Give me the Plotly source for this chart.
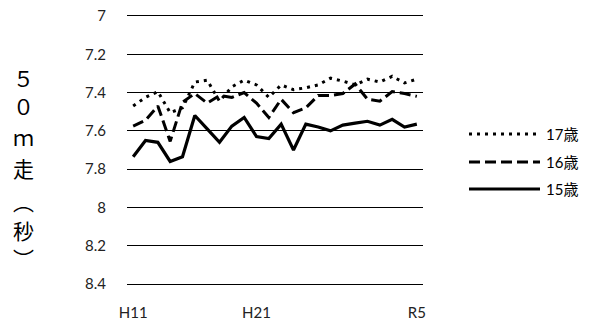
import plotly.graph_objects as go

categories = ["H11","H12","H13","H14","H15","H16","H17","H18","H19","H20",
              "H21","H22","H23","H24","H25","H26","H27","H28","H29","H30",
              "R1","R3","R4","R5"]
tick_labels = {"H11": "H11", "H21": "H21", "R5": "R5"}

age17 = [7.47, 7.425, 7.395, 7.505, 7.48, 7.345, 7.335, 7.445, 7.37, 7.335,
         7.36, 7.425, 7.36, 7.385, 7.375, 7.36, 7.325, 7.34, 7.36, 7.33,
         7.345, 7.315, 7.35, 7.33]
age16 = [7.575, 7.545, 7.47, 7.655, 7.45, 7.405, 7.455, 7.415, 7.425, 7.40,
         7.455, 7.53, 7.435, 7.505, 7.48, 7.415, 7.415, 7.405, 7.355, 7.435,
         7.445, 7.395, 7.405, 7.42]
age15 = [7.735, 7.65, 7.66, 7.76, 7.735, 7.52, 7.59, 7.66, 7.575, 7.53,
         7.63, 7.64, 7.565, 7.70, 7.565, 7.58, 7.60, 7.57, 7.56, 7.55,
         7.57, 7.54, 7.58, 7.565]

series_names = ["17歳", "16歳", "15歳"]
y_ticks = [7, 7.2, 7.4, 7.6, 7.8, 8, 8.2, 8.4]
y_title_chars = ["５", "０", "ｍ", "走", "︵", "秒", "︶"]

FONT = "Lato, 'Noto Sans CJK JP', sans-serif"
JP = "'Noto Sans CJK JP', sans-serif"

styles = [dict(dash="3px,5px", width=3), dict(dash="11px,5px", width=3), dict(dash="solid", width=3.2)]

fig = go.Figure()
for name, vals, st in zip(series_names, [age17, age16, age15], styles):
    fig.add_trace(go.Scatter(x=categories, y=vals, mode="lines", name=name,
                             line=dict(color="black", **st), showlegend=False))

W, H = 589, 327
ml, mr, mt, mb = 127, 166, 16, 43
pw, ph = W - ml - mr, H - mt - mb

def px_x(x):
    return (x - ml) / pw

def px_y(y):
    return (H - mb - y) / ph

# custom legend
legend_rows = [134, 162, 189]
for name, st, ry in zip(series_names, styles, legend_rows):
    fig.add_shape(type="line", xref="paper", yref="paper",
                  x0=px_x(469), x1=px_x(540), y0=px_y(ry), y1=px_y(ry),
                  line=dict(color="black", width=st["width"], dash=st["dash"]))
    fig.add_annotation(text=name, xref="paper", yref="paper", x=px_x(544), y=px_y(ry),
                       xanchor="left", yanchor="middle", showarrow=False,
                       font=dict(family=FONT, size=15, color="black"))

# vertical y-axis title
y_positions = [78, 106, 137, 168, 201, 230, 258]
for ch, yy in zip(y_title_chars, y_positions):
    fig.add_annotation(text=ch, xref="paper", yref="paper", x=px_x(23), y=px_y(yy),
                       xanchor="center", yanchor="middle", showarrow=False,
                       font=dict(family=JP, size=21, color="black"))

fig.update_layout(
    width=W, height=H,
    margin=dict(l=ml, r=mr, t=mt, b=mb, pad=0, autoexpand=False),
    plot_bgcolor="white", paper_bgcolor="white",
    font=dict(family=FONT, size=15, color="#222"),
)
fig.update_xaxes(type="category", categoryorder="array", categoryarray=categories,
                 range=[-0.5, len(categories) - 0.5],
                 tickmode="array", tickvals=list(tick_labels.keys()),
                 ticktext=list(tick_labels.values()),
                 showgrid=False, showline=True, mirror=True, linecolor="black", linewidth=1,
                 zeroline=False, ticks="", automargin=False,
                 ticklabelstandoff=15, tickfont=dict(size=15, family=FONT))
fig.update_yaxes(range=[8.4, 7.0], tickmode="array", tickvals=y_ticks,
                 ticktext=[f"{v:g}" for v in y_ticks],
                 showgrid=True, gridcolor="black", gridwidth=1,
                 zeroline=False, showline=False, ticks="", automargin=False,
                 ticklabelstandoff=20, tickfont=dict(size=15, family=FONT))

fig.write_html("out.html", config={"displayModeBar": False},
               post_script="document.body.style.margin='0';document.body.style.padding='0';")
